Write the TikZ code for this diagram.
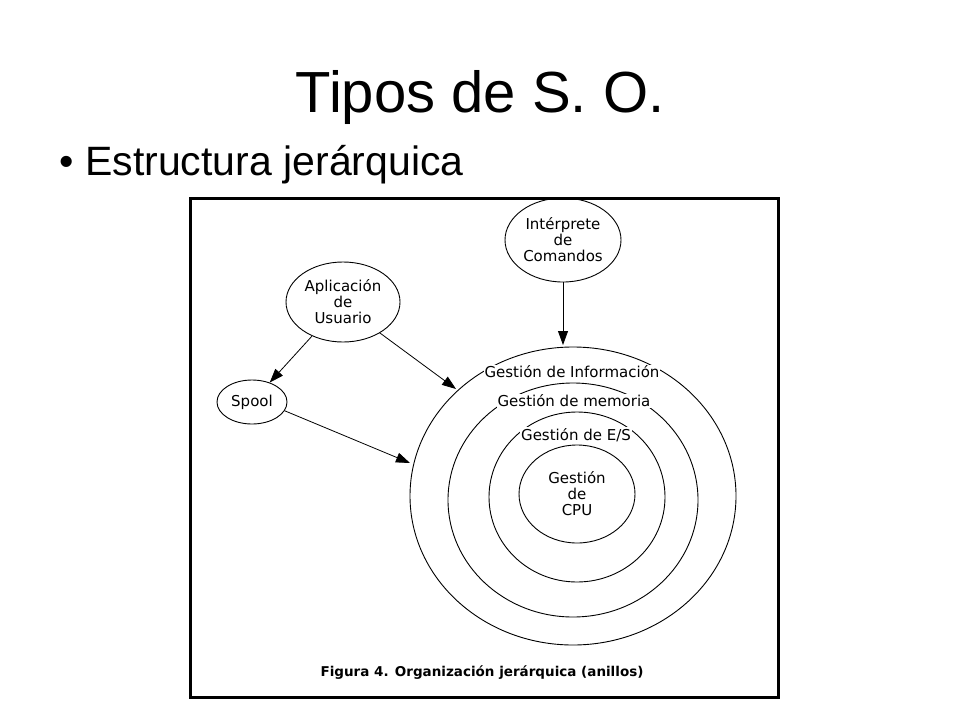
\documentclass[tikz,border=0pt]{standalone}
\usepackage{fontspec}
\setmainfont{Liberation Sans}
\newfontfamily\djfont{DejaVu Sans}
\usetikzlibrary{shapes.geometric,arrows.meta}
\begin{document}
\begin{tikzpicture}[x=1pt,y=-1pt,
  lab/.style={font=\djfont\fontsize{15}{16}\selectfont,inner sep=1pt},
  ell/.style={draw,line width=0.9pt,ellipse,minimum width=#1,inner sep=0pt},
  arr/.style={-{Triangle[length=14pt,width=10pt]},line width=0.8pt}]
\useasboundingbox (0,0) rectangle (960,720);
\node[font=\fontsize{58}{60}\selectfont] (title) at (480,98) {Tipos de S. O.};
\node[font=\fontsize{41}{43}\selectfont,anchor=west] (bul) at (56,165) {\textbullet\ Estructura jerárquica};
\draw[line width=3pt] (190,198) rectangle (778,697);
% rings
\draw[line width=0.9pt] (573,496) ellipse [x radius=163,y radius=149];
\draw[line width=0.9pt] (573,500) ellipse [x radius=125,y radius=117];
\draw[line width=0.9pt] (577,497) ellipse [x radius=88,y radius=85];
\draw[line width=0.9pt] (577,494) ellipse [x radius=58,y radius=49];
\node[lab,fill=white] (gi) at (572,372) {Gestión de Información};
\node[lab,fill=white] (gm) at (574,401) {Gestión de memoria};
\node[lab,fill=white] (ge) at (576,435) {Gestión de E/S};
\node[lab,align=center] (cpu) at (577,494) {Gestión\\de\\CPU};
% nodes
\node[ell=116pt,minimum height=84pt,lab,align=center] (int) at (563,240) {Intérprete\\de\\Comandos};
\node[ell=114pt,minimum height=80pt,lab,align=center] (app) at (343,302) {Aplicación\\de\\Usuario};
\node[ell=70pt,minimum height=44pt,lab] (sp) at (252,402) {Spool};
\coordinate (t1) at (563,345);
\coordinate (t2) at (456,389);
\coordinate (t3) at (410,463);
\draw[arr] (int) -- (t1);
\draw[arr] (app) -- (sp);
\draw[arr] (app.-40) -- (t2);
\draw[arr] (sp.-15) -- (t3);
\node[font=\djfont\bfseries\fontsize{13.5}{15}\selectfont] (cap) at (482,673) {Figura 4. Organización jerárquica (anillos)};
\end{tikzpicture}
\end{document}
